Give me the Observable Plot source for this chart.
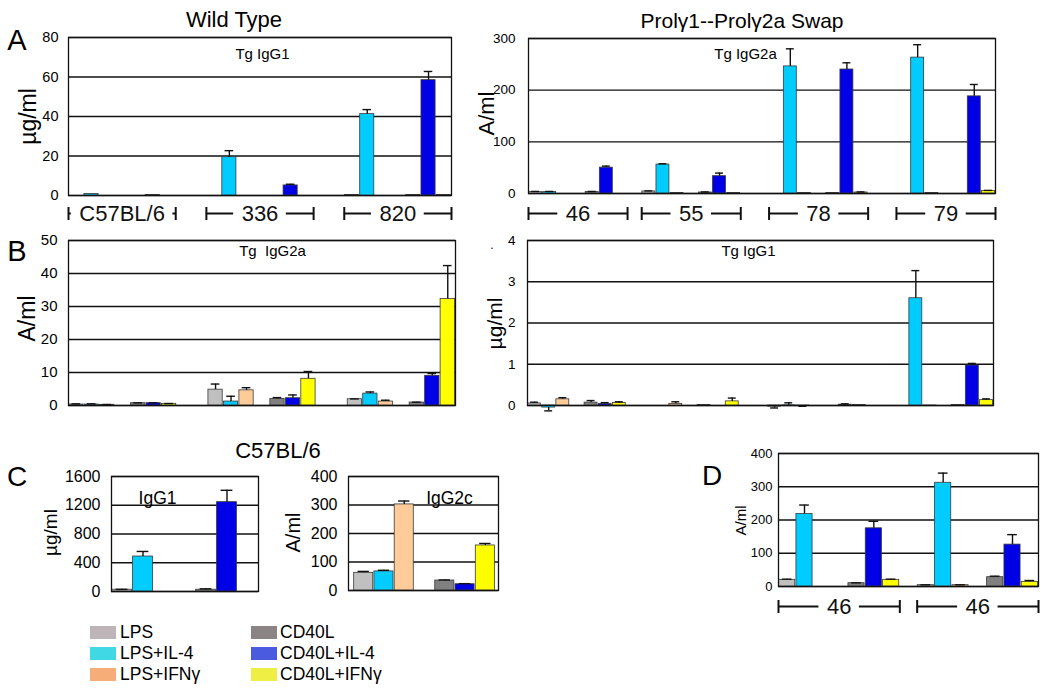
<!DOCTYPE html>
<html><head><meta charset="utf-8">
<script src="https://cdn.jsdelivr.net/npm/d3@7"></script>
<script src="https://cdn.jsdelivr.net/npm/@observablehq/plot@0.6"></script>
<style>
body{margin:0;background:#fff;}
#fig{position:relative;width:1050px;height:693px;overflow:hidden;font-family:"Liberation Sans",Arial,sans-serif;color:#000;background:#fff;}
.lbl{position:absolute;white-space:pre;line-height:1;transform:translate(-50%,-50%);}
.panel{position:absolute;}
svg text{white-space:pre;}
.sw{position:absolute;width:26px;height:13px;}
.lt{position:absolute;font-size:17.5px;line-height:1;transform:translateY(-50%);white-space:pre;}
</style></head><body><div id="fig"></div>
<script>
// ---------- data ----------
const stims = ["LPS", "LPS+IL-4", "LPS+IFNγ", "CD40L", "CD40L+IL-4", "CD40L+IFNγ"];
const barColors = ["#c0c0c0", "#00ccff", "#ffcc99", "#808080", "#0000e6", "#ffff00"];
const legendColors = ["#bdb5b8", "#40d8e4", "#f6ad78", "#8a8484", "#4b5be0", "#eeee44"];

// Panel A, Wild Type, Tg IgG1 (µg/ml)
const wtSamples = ["C57BL/6", "336", "820"];
const wtIgG1 = [[null, 0.8, null, null, 0.3, null], [null, 19.4, null, null, 5.1, null], [0.3, 41.2, null, 0.3, 58.4, 0.3]];
const wtIgG1Err = [[0, 0, 0, 0, 0, 0], [0, 3.3, 0, 0, 0.6, 0], [0, 2.3, 0, 0, 4.4, 0]];
const wtIgG1Ticks = [0, 20, 40, 60, 80];

// Panel A, Swap, Tg IgG2a (A/ml)
const swapSamples = ["46", "55", "78", "79"];
const swapIgG2a = [[3, 3, null, 3, 50, null], [4, 56, 1, 2, 33.5, 1], [null, 246, 1, 1, 240, 2], [null, 263, 1, null, 188, 5]];
const swapIgG2aErr = [[1, 1, 0, 1, 3, 0], [1, 1.5, 0, 1, 6, 0], [0, 34, 0, 0, 13, 1], [0, 25, 0, 0, 23, 1]];
const swapIgG2aTicks = [0, 100, 200, 300];

// Panel B, Wild Type, Tg IgG2a (A/ml)
const wtIgG2a = [[0.3, 0.3, 0.2, 0.7, 0.7, 0.5], [4.8, 1.2, 4.6, 2.0, 2.2, 8.1], [1.9, 3.6, 1.2, 0.9, 9.0, 32.3]];
const wtIgG2aErr = [[0.2, 0.2, 0.1, 0.1, 0.1, 0.1], [1.7, 1.6, 0.8, 0.4, 1.0, 2.2], [0.1, 0.5, 0.4, 0.1, 0.7, 10.1]];
const wtIgG2aTicks = [0, 10, 20, 30, 40, 50];

// Panel B, Swap, Tg IgG1 (µg/ml)
const swapIgG1 = [[0.05, -0.05, 0.15, 0.07, 0.04, 0.06], [null, null, 0.04, 0.01, null, 0.1], [-0.03, 0.005, -0.01, null, 0.02, 0.01], [null, 2.6, -0.01, 0.01, 0.97, 0.13]];
const swapIgG1Err = [[0.03, 0.08, 0.04, 0.05, 0.03, 0.03], [0, 0, 0.05, 0, 0, 0.08], [0.03, 0.06, 0.01, 0, 0.02, 0], [0, 0.67, 0, 0, 0.05, 0.03]];
const swapIgG1Ticks = [0, 1, 2, 3, 4];

// Panel C, C57BL/6
const c57Samples = ["C57BL/6"];
const c57IgG1 = [[25, 487, null, 25, 1243, null]];
const c57IgG1Err = [[5, 70, 0, 12, 165, 0]];
const c57IgG1Ticks = [0, 400, 800, 1200, 1600];
const c57IgG2c = [[62, 67, 302, 35, 22, 158]];
const c57IgG2cErr = [[5, 4, 12, 2, 2, 7]];
const c57IgG2cTicks = [0, 100, 200, 300, 400];

// Panel D
const dSamples = ["46", "46"];
const dValues = [[20, 218, null, 10, 175, 20], [4, 312, 4, 28, 126, 14]];
const dErr = [[2, 27, 0, 1, 21, 2], [1, 29, 1, 3, 30, 4]];
const dTicks = [0, 100, 200, 300, 400];

// ---------- drawing ----------
const fig = document.getElementById("fig");
const FONT = "Liberation Sans, Arial, sans-serif";
const vbar = {draw(ctx) { ctx.moveTo(0, -6.5); ctx.lineTo(0, 6.5); }};
const measureCtx = document.createElement("canvas").getContext("2d");
function textWidth(t, size) {
  measureCtx.font = `${size}px "Liberation Sans", Arial, sans-serif`;
  return measureCtx.measureText(t).width;
}

function drawPanel(cfg) {
  const {samples, values, errors, gaps = [], yTicks, box, frame, tickFont, tickPad,
         ylabel, ylabelFont, ylabelPos, title, titleFont, titlePos, bracket, xPad = [0, 0]} = cfg;
  const starts = [];
  let s = 0;
  samples.forEach((_, i) => { starts.push(s); s += 7 + (gaps[i] || 0); });
  const nSlots = starts[starts.length - 1] + 7;
  const slotPx = (frame.right - frame.left) / (nSlots + xPad[0] + xPad[1]);
  const bars = [];
  samples.forEach((_, i) => stims.forEach((st, j) => {
    const v = values[i][j];
    if (v == null) return;
    bars.push({stim: st, slot: starts[i] + (j < 3 ? j : j + 1), value: v, err: errors[i][j] || 0});
  }));
  const errs = bars.filter(d => d.err > 0).map(d => ({...d, top: d.value + (d.value < 0 ? -d.err : d.err)}));
  const fcx = (frame.left + frame.right) / 2, fcy = (frame.top + frame.bottom) / 2;
  const marks = [
    Plot.ruleY(yTicks, {stroke: "#111", strokeWidth: 1.3}),
    Plot.rect(bars, {x1: "slot", x2: d => d.slot + 1, y1: 0, y2: "value", fill: "stim",
      stroke: "#3a3a3a", strokeWidth: 0.8, insetLeft: 0.6, insetRight: 0.6}),
    Plot.ruleX(errs, {x: d => d.slot + 0.5, y1: "value", y2: "top", stroke: "#111", strokeWidth: 1.4}),
    Plot.ruleY(errs, {y: "top", x1: d => d.slot + 0.22, x2: d => d.slot + 0.78, stroke: "#111", strokeWidth: 1.4}),
    Plot.frame({stroke: "#111", strokeWidth: 1.3}),
    Plot.text([title], {frameAnchor: "top", textAnchor: "middle", lineAnchor: "middle",
      dx: titlePos[0] - fcx, dy: titlePos[1] - frame.top, fontSize: titleFont, text: d => d}),
    Plot.text([ylabel], {frameAnchor: "left", textAnchor: "middle", lineAnchor: "middle", rotate: -90,
      dx: ylabelPos[0] - frame.left, dy: ylabelPos[1] - fcy, fontSize: ylabelFont, text: d => d})
  ];
  if (bracket) {
    const br = samples.map((label, i) => ({
      label, x1: starts[i], x2: starts[i] + 7, xc: starts[i] + 3.5, size: bracket.font
    }));
    const segs = br.flatMap(b => {
      const half = (textWidth(b.label, b.size) / 2 + 8) / slotPx;
      return [{x1: b.x1, x2: b.xc - half}, {x1: b.xc + half, x2: b.x2}].filter(d => d.x2 > d.x1);
    });
    const caps = br.flatMap(b => [{x: b.x1}, {x: b.x2}]);
    marks.push(
      Plot.ruleY(segs, {y: () => 0, x1: "x1", x2: "x2", dy: bracket.dy, stroke: "#111", strokeWidth: 2}),
      Plot.text(br, {x: "xc", y: () => 0, dy: bracket.dy, text: "label", fontSize: "size",
        fill: "#111", lineAnchor: "middle"}),
      Plot.dot(caps, {x: "x", y: () => 0, dy: bracket.dy, symbol: vbar, stroke: "#111", fill: "none", strokeWidth: 2, r: 3})
    );
  }
  const svg = Plot.plot({
    width: box.w, height: box.h,
    marginLeft: frame.left - box.x, marginRight: box.x + box.w - frame.right,
    marginTop: frame.top - box.y, marginBottom: box.y + box.h - frame.bottom,
    x: {domain: [-xPad[0], nSlots + xPad[1]], axis: null},
    y: {domain: [0, yTicks[yTicks.length - 1]], ticks: yTicks, tickSize: 0, tickPadding: tickPad,
        tickFormat: d => String(d), label: null},
    color: {domain: stims, range: barColors},
    style: {fontFamily: FONT, fontSize: tickFont + "px", background: "transparent", overflow: "visible", color: "#000"},
    marks
  });
  const wrap = document.createElement("div");
  wrap.className = "panel";
  wrap.style.left = box.x + "px";
  wrap.style.top = box.y + "px";
  wrap.appendChild(svg);
  fig.appendChild(wrap);
}

drawPanel({samples: wtSamples, values: wtIgG1, errors: wtIgG1Err, gaps: [2, 2], yTicks: wtIgG1Ticks,
  box: {x: 0, y: 26, w: 462, h: 206}, frame: {left: 68, right: 451, top: 37, bottom: 195},
  tickFont: 14.5, tickPad: 10, ylabel: "µg/ml", ylabelFont: 23, ylabelPos: [28, 116],
  title: "Tg IgG1", titleFont: 15, titlePos: [262, 54], bracket: {dy: 18, font: 22}});

drawPanel({samples: swapSamples, values: swapIgG2a, errors: swapIgG2aErr, gaps: [1, 2, 2], yTicks: swapIgG2aTicks,
  box: {x: 470, y: 26, w: 545, h: 206}, frame: {left: 528, right: 995, top: 38, bottom: 193},
  tickFont: 13.5, tickPad: 13, ylabel: "A/ml", ylabelFont: 22, ylabelPos: [486, 113],
  title: "Tg IgG2a", titleFont: 15, titlePos: [745, 54], bracket: {dy: 20, font: 22}});

drawPanel({samples: wtSamples, values: wtIgG2a, errors: wtIgG2aErr, gaps: [2, 2], yTicks: wtIgG2aTicks,
  box: {x: 0, y: 230, w: 462, h: 200}, frame: {left: 68, right: 455, top: 240, bottom: 405},
  tickFont: 15, tickPad: 11, ylabel: "A/ml", ylabelFont: 23, ylabelPos: [27, 318],
  title: "Tg  IgG2a", titleFont: 15, titlePos: [272, 251]});

drawPanel({samples: swapSamples, values: swapIgG1, errors: swapIgG1Err, gaps: [1, 2, 2], yTicks: swapIgG1Ticks,
  box: {x: 470, y: 230, w: 545, h: 200}, frame: {left: 527, right: 993, top: 240, bottom: 405},
  tickFont: 13.5, tickPad: 12, ylabel: "µg/ml", ylabelFont: 21, ylabelPos: [495, 323],
  title: "Tg IgG1", titleFont: 15, titlePos: [748, 251]});

drawPanel({samples: c57Samples, values: c57IgG1, errors: c57IgG1Err, yTicks: c57IgG1Ticks,
  box: {x: 40, y: 466, w: 230, h: 135}, frame: {left: 111, right: 258, top: 476, bottom: 591},
  tickFont: 16, tickPad: 11, ylabel: "µg/ml", ylabelFont: 19, ylabelPos: [50, 532],
  title: "IgG1", titleFont: 17.5, titlePos: [157, 498]});

drawPanel({samples: c57Samples, values: c57IgG2c, errors: c57IgG2cErr, yTicks: c57IgG2cTicks,
  box: {x: 280, y: 466, w: 230, h: 135}, frame: {left: 348, right: 498, top: 476, bottom: 590},
  tickFont: 16, tickPad: 11, ylabel: "A/ml", ylabelFont: 20, ylabelPos: [293, 532],
  title: "IgG2c", titleFont: 17.5, titlePos: [449, 498], xPad: [0.25, 0.15]});

drawPanel({samples: dSamples, values: dValues, errors: dErr, gaps: [1], yTicks: dTicks,
  box: {x: 730, y: 440, w: 318, h: 190}, frame: {left: 778, right: 1038, top: 453, bottom: 586},
  tickFont: 13, tickPad: 6, ylabel: "A/ml", ylabelFont: 15, ylabelPos: [741, 520],
  title: "", titleFont: 14, titlePos: [900, 470], bracket: {dy: 20, font: 22}});

// ---------- headings, letters, legend ----------
function label(text, x, y, size, extra = "") {
  const d = document.createElement("div");
  d.className = "lbl";
  d.textContent = text;
  d.style.cssText = `left:${x}px;top:${y}px;font-size:${size}px;${extra}`;
  fig.appendChild(d);
}
label("Wild Type", 234, 20, 22);
label("Prolγ1--Prolγ2a Swap", 742, 20, 21);
label("C57BL/6", 278, 451, 22);
label("A", 17, 40, 29);
label("B", 17, 251, 29);
label("C", 17, 477, 28);
label("D", 712, 476, 28);
label(".", 492, 245, 12);

const legendRows = [632.5, 653.5, 674.5];
stims.forEach((st, i) => {
  const col = i < 3 ? 0 : 1, row = i % 3;
  const sx = col === 0 ? 90 : 251, tx = col === 0 ? 120 : 280;
  const sw = document.createElement("div");
  sw.className = "sw";
  sw.style.cssText = `left:${sx}px;top:${legendRows[row] - 6.5}px;background:${legendColors[i]};`;
  fig.appendChild(sw);
  const t = document.createElement("div");
  t.className = "lt";
  t.textContent = st;
  t.style.left = tx + "px";
  t.style.top = legendRows[row] + "px";
  fig.appendChild(t);
});
</script></body></html>
